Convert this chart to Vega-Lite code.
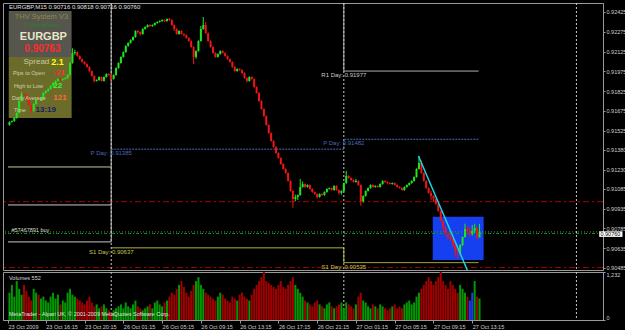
{
"$schema":"https://vega.github.io/schema/vega-lite/v6.json",
"background":"#000000",
"padding":{"left":2,"top":2,"right":0,"bottom":0},
"bounds":"flush",
"spacing":2,
"config":{"view":{"stroke":"#9a9a9a","strokeWidth":1},"text":{"font":"Liberation Sans"},"axis":{"labelFont":"Liberation Sans","labelFontSize":5.5,"labelColor":"#d0d0d0","domainColor":"#9a9a9a","tickColor":"#9a9a9a","grid":false}},
"datasets":{
"bars":[
{"i":-15,"o":0.91568,"h":0.91596,"l":0.91563,"c":0.91591,"v":700},
{"i":-14,"o":0.91591,"h":0.91603,"l":0.91586,"c":0.91598,"v":900},
{"i":-13,"o":0.91598,"h":0.91626,"l":0.91593,"c":0.91621,"v":600},
{"i":-12,"o":0.91621,"h":0.91664,"l":0.91616,"c":0.91659,"v":1000},
{"i":-11,"o":0.91659,"h":0.91755,"l":0.91654,"c":0.91750,"v":800},
{"i":-10,"o":0.91750,"h":0.91820,"l":0.91745,"c":0.91803,"v":650},
{"i":-9,"o":0.91803,"h":0.91815,"l":0.91791,"c":0.91796,"v":900},
{"i":-8,"o":0.91796,"h":0.91801,"l":0.91760,"c":0.91765,"v":750},
{"i":-7,"o":0.91765,"h":0.91770,"l":0.91715,"c":0.91720,"v":600},
{"i":-6,"o":0.91720,"h":0.91725,"l":0.91660,"c":0.91674,"v":500},
{"i":-5,"o":0.91674,"h":0.91732,"l":0.91669,"c":0.91727,"v":800},
{"i":-4,"o":0.91727,"h":0.91770,"l":0.91722,"c":0.91765,"v":700},
{"i":-3,"o":0.91765,"h":0.91775,"l":0.91753,"c":0.91758,"v":650},
{"i":-2,"o":0.91758,"h":0.91778,"l":0.91753,"c":0.91773,"v":550},
{"i":-1,"o":0.91773,"h":0.91816,"l":0.91768,"c":0.91811,"v":600},
{"i":0,"o":0.91811,"h":0.91831,"l":0.91806,"c":0.91826,"v":500},
{"i":1,"o":0.91826,"h":0.91846,"l":0.91821,"c":0.91841,"v":450},
{"i":2,"o":0.91841,"h":0.91869,"l":0.91836,"c":0.91864,"v":600},
{"i":3,"o":0.91864,"h":0.91891,"l":0.91859,"c":0.91886,"v":700},
{"i":4,"o":0.91886,"h":0.91907,"l":0.91881,"c":0.91902,"v":550},
{"i":5,"o":0.91902,"h":0.91922,"l":0.91897,"c":0.91917,"v":650},
{"i":6,"o":0.91917,"h":0.91922,"l":0.91904,"c":0.91909,"v":400},
{"i":7,"o":0.91909,"h":0.91922,"l":0.91904,"c":0.91917,"v":500},
{"i":8,"o":0.91917,"h":0.91929,"l":0.91912,"c":0.91924,"v":450},
{"i":9,"o":0.91924,"h":0.91952,"l":0.91919,"c":0.91947,"v":700},
{"i":10,"o":0.91947,"h":0.92043,"l":0.91942,"c":0.92038,"v":800},
{"i":11,"o":0.92038,"h":0.92150,"l":0.92033,"c":0.92114,"v":650},
{"i":12,"o":0.92114,"h":0.92140,"l":0.92100,"c":0.92121,"v":600},
{"i":13,"o":0.92121,"h":0.92126,"l":0.92086,"c":0.92091,"v":550},
{"i":14,"o":0.92091,"h":0.92096,"l":0.92063,"c":0.92068,"v":500},
{"i":15,"o":0.92068,"h":0.92073,"l":0.92041,"c":0.92046,"v":450},
{"i":16,"o":0.92046,"h":0.92051,"l":0.92025,"c":0.92030,"v":400},
{"i":17,"o":0.92030,"h":0.92035,"l":0.92003,"c":0.92008,"v":500},
{"i":18,"o":0.92008,"h":0.92013,"l":0.91972,"c":0.91977,"v":600},
{"i":19,"o":0.91977,"h":0.91982,"l":0.91935,"c":0.91940,"v":450},
{"i":20,"o":0.91940,"h":0.91945,"l":0.91890,"c":0.91902,"v":350},
{"i":21,"o":0.91902,"h":0.91914,"l":0.91897,"c":0.91909,"v":400},
{"i":22,"o":0.91909,"h":0.91937,"l":0.91904,"c":0.91932,"v":300},
{"i":23,"o":0.91932,"h":0.91937,"l":0.91897,"c":0.91902,"v":350},
{"i":24,"o":0.91902,"h":0.91937,"l":0.91897,"c":0.91932,"v":400},
{"i":25,"o":0.91932,"h":0.91960,"l":0.91927,"c":0.91955,"v":300},
{"i":26,"o":0.91955,"h":0.91960,"l":0.91942,"c":0.91947,"v":250},
{"i":27,"o":0.91947,"h":0.91952,"l":0.91905,"c":0.91917,"v":200},
{"i":28,"o":0.91917,"h":0.91952,"l":0.91912,"c":0.91947,"v":250},
{"i":29,"o":0.91947,"h":0.92005,"l":0.91942,"c":0.92000,"v":300},
{"i":30,"o":0.92000,"h":0.92043,"l":0.91995,"c":0.92038,"v":350},
{"i":31,"o":0.92038,"h":0.92089,"l":0.92033,"c":0.92084,"v":400},
{"i":32,"o":0.92084,"h":0.92126,"l":0.92079,"c":0.92121,"v":300},
{"i":33,"o":0.92121,"h":0.92172,"l":0.92116,"c":0.92167,"v":450},
{"i":34,"o":0.92167,"h":0.92195,"l":0.92162,"c":0.92190,"v":350},
{"i":35,"o":0.92190,"h":0.92217,"l":0.92185,"c":0.92212,"v":300},
{"i":36,"o":0.92212,"h":0.92240,"l":0.92207,"c":0.92235,"v":400},
{"i":37,"o":0.92235,"h":0.92286,"l":0.92230,"c":0.92281,"v":500},
{"i":38,"o":0.92281,"h":0.92290,"l":0.92260,"c":0.92273,"v":350},
{"i":39,"o":0.92273,"h":0.92278,"l":0.92245,"c":0.92258,"v":300},
{"i":40,"o":0.92258,"h":0.92301,"l":0.92253,"c":0.92296,"v":250},
{"i":41,"o":0.92296,"h":0.92316,"l":0.92291,"c":0.92311,"v":300},
{"i":42,"o":0.92311,"h":0.92331,"l":0.92306,"c":0.92326,"v":350},
{"i":43,"o":0.92326,"h":0.92331,"l":0.92313,"c":0.92318,"v":400},
{"i":44,"o":0.92318,"h":0.92331,"l":0.92313,"c":0.92326,"v":300},
{"i":45,"o":0.92326,"h":0.92346,"l":0.92321,"c":0.92341,"v":450},
{"i":46,"o":0.92341,"h":0.92354,"l":0.92336,"c":0.92349,"v":500},
{"i":47,"o":0.92349,"h":0.92361,"l":0.92344,"c":0.92356,"v":400},
{"i":48,"o":0.92356,"h":0.92369,"l":0.92351,"c":0.92364,"v":350},
{"i":49,"o":0.92364,"h":0.92369,"l":0.92351,"c":0.92356,"v":450},
{"i":50,"o":0.92356,"h":0.92377,"l":0.92351,"c":0.92372,"v":500},
{"i":51,"o":0.92372,"h":0.92380,"l":0.92359,"c":0.92364,"v":600},
{"i":52,"o":0.92364,"h":0.92369,"l":0.92321,"c":0.92326,"v":700},
{"i":53,"o":0.92326,"h":0.92331,"l":0.92280,"c":0.92296,"v":650},
{"i":54,"o":0.92296,"h":0.92301,"l":0.92253,"c":0.92258,"v":800},
{"i":55,"o":0.92258,"h":0.92286,"l":0.92253,"c":0.92281,"v":900},
{"i":56,"o":0.92281,"h":0.92286,"l":0.92253,"c":0.92258,"v":1000},
{"i":57,"o":0.92258,"h":0.92263,"l":0.92240,"c":0.92250,"v":850},
{"i":58,"o":0.92250,"h":0.92255,"l":0.92223,"c":0.92228,"v":700},
{"i":59,"o":0.92228,"h":0.92233,"l":0.92200,"c":0.92205,"v":600},
{"i":60,"o":0.92205,"h":0.92210,"l":0.92154,"c":0.92159,"v":750},
{"i":61,"o":0.92159,"h":0.92164,"l":0.92030,"c":0.92084,"v":900},
{"i":62,"o":0.92084,"h":0.92134,"l":0.92070,"c":0.92129,"v":1000},
{"i":63,"o":0.92129,"h":0.92210,"l":0.92124,"c":0.92205,"v":1100},
{"i":64,"o":0.92205,"h":0.92320,"l":0.92200,"c":0.92296,"v":900},
{"i":65,"o":0.92296,"h":0.92387,"l":0.92291,"c":0.92326,"v":800},
{"i":66,"o":0.92326,"h":0.92350,"l":0.92260,"c":0.92265,"v":700},
{"i":67,"o":0.92265,"h":0.92270,"l":0.92200,"c":0.92205,"v":650},
{"i":68,"o":0.92205,"h":0.92210,"l":0.92154,"c":0.92159,"v":600},
{"i":69,"o":0.92159,"h":0.92164,"l":0.92109,"c":0.92114,"v":550},
{"i":70,"o":0.92114,"h":0.92119,"l":0.92079,"c":0.92084,"v":500},
{"i":71,"o":0.92084,"h":0.92111,"l":0.92079,"c":0.92106,"v":600},
{"i":72,"o":0.92106,"h":0.92134,"l":0.92101,"c":0.92129,"v":700},
{"i":73,"o":0.92129,"h":0.92134,"l":0.92109,"c":0.92114,"v":650},
{"i":74,"o":0.92114,"h":0.92119,"l":0.92086,"c":0.92091,"v":550},
{"i":75,"o":0.92091,"h":0.92096,"l":0.92063,"c":0.92068,"v":500},
{"i":76,"o":0.92068,"h":0.92073,"l":0.92041,"c":0.92046,"v":450},
{"i":77,"o":0.92046,"h":0.92051,"l":0.92003,"c":0.92008,"v":600},
{"i":78,"o":0.92008,"h":0.92013,"l":0.91972,"c":0.91977,"v":550},
{"i":79,"o":0.91977,"h":0.91998,"l":0.91972,"c":0.91993,"v":500},
{"i":80,"o":0.91993,"h":0.91998,"l":0.91980,"c":0.91985,"v":650},
{"i":81,"o":0.91985,"h":0.91990,"l":0.91957,"c":0.91962,"v":700},
{"i":82,"o":0.91962,"h":0.91967,"l":0.91919,"c":0.91924,"v":600},
{"i":83,"o":0.91924,"h":0.91929,"l":0.91890,"c":0.91902,"v":550},
{"i":84,"o":0.91902,"h":0.91937,"l":0.91897,"c":0.91932,"v":500},
{"i":85,"o":0.91932,"h":0.91937,"l":0.91912,"c":0.91917,"v":650},
{"i":86,"o":0.91917,"h":0.91922,"l":0.91851,"c":0.91856,"v":800},
{"i":87,"o":0.91856,"h":0.91861,"l":0.91806,"c":0.91811,"v":900},
{"i":88,"o":0.91811,"h":0.91816,"l":0.91745,"c":0.91750,"v":1000},
{"i":89,"o":0.91750,"h":0.91755,"l":0.91684,"c":0.91689,"v":1100},
{"i":90,"o":0.91689,"h":0.91694,"l":0.91631,"c":0.91636,"v":1232},
{"i":91,"o":0.91636,"h":0.91641,"l":0.91563,"c":0.91568,"v":1000},
{"i":92,"o":0.91568,"h":0.91573,"l":0.91502,"c":0.91507,"v":950},
{"i":93,"o":0.91507,"h":0.91512,"l":0.91442,"c":0.91447,"v":900},
{"i":94,"o":0.91447,"h":0.91452,"l":0.91396,"c":0.91401,"v":850},
{"i":95,"o":0.91401,"h":0.91406,"l":0.91351,"c":0.91356,"v":800},
{"i":96,"o":0.91356,"h":0.91361,"l":0.91313,"c":0.91318,"v":900},
{"i":97,"o":0.91318,"h":0.91323,"l":0.91267,"c":0.91272,"v":1000},
{"i":98,"o":0.91272,"h":0.91277,"l":0.91230,"c":0.91235,"v":850},
{"i":99,"o":0.91235,"h":0.91240,"l":0.91199,"c":0.91204,"v":800},
{"i":100,"o":0.91204,"h":0.91209,"l":0.91139,"c":0.91144,"v":900},
{"i":101,"o":0.91144,"h":0.91149,"l":0.91063,"c":0.91068,"v":1000},
{"i":102,"o":0.91068,"h":0.91073,"l":0.90940,"c":0.91007,"v":1100},
{"i":103,"o":0.91007,"h":0.91040,"l":0.90990,"c":0.91022,"v":900},
{"i":104,"o":0.91022,"h":0.91042,"l":0.91000,"c":0.91037,"v":800},
{"i":105,"o":0.91037,"h":0.91159,"l":0.91032,"c":0.91098,"v":700},
{"i":106,"o":0.91098,"h":0.91140,"l":0.91093,"c":0.91121,"v":600},
{"i":107,"o":0.91121,"h":0.91126,"l":0.91093,"c":0.91098,"v":500},
{"i":108,"o":0.91098,"h":0.91118,"l":0.91093,"c":0.91113,"v":450},
{"i":109,"o":0.91113,"h":0.91118,"l":0.91078,"c":0.91083,"v":400},
{"i":110,"o":0.91083,"h":0.91088,"l":0.91055,"c":0.91060,"v":350},
{"i":111,"o":0.91060,"h":0.91065,"l":0.91040,"c":0.91045,"v":450},
{"i":112,"o":0.91045,"h":0.91050,"l":0.91010,"c":0.91022,"v":500},
{"i":113,"o":0.91022,"h":0.91050,"l":0.91017,"c":0.91045,"v":400},
{"i":114,"o":0.91045,"h":0.91050,"l":0.91032,"c":0.91037,"v":350},
{"i":115,"o":0.91037,"h":0.91065,"l":0.91032,"c":0.91060,"v":300},
{"i":116,"o":0.91060,"h":0.91088,"l":0.91055,"c":0.91083,"v":400},
{"i":117,"o":0.91083,"h":0.91095,"l":0.91078,"c":0.91090,"v":450},
{"i":118,"o":0.91090,"h":0.91095,"l":0.91070,"c":0.91075,"v":350},
{"i":119,"o":0.91075,"h":0.91111,"l":0.91070,"c":0.91106,"v":300},
{"i":120,"o":0.91106,"h":0.91111,"l":0.91070,"c":0.91075,"v":350},
{"i":121,"o":0.91075,"h":0.91080,"l":0.91040,"c":0.91053,"v":400},
{"i":122,"o":0.91053,"h":0.91073,"l":0.91040,"c":0.91068,"v":450},
{"i":123,"o":0.91068,"h":0.91133,"l":0.91063,"c":0.91128,"v":300},
{"i":124,"o":0.91128,"h":0.91220,"l":0.91123,"c":0.91182,"v":450},
{"i":125,"o":0.91182,"h":0.91187,"l":0.91161,"c":0.91166,"v":400},
{"i":126,"o":0.91166,"h":0.91171,"l":0.91146,"c":0.91151,"v":350},
{"i":127,"o":0.91151,"h":0.91156,"l":0.91131,"c":0.91136,"v":300},
{"i":128,"o":0.91136,"h":0.91160,"l":0.91131,"c":0.91144,"v":400},
{"i":129,"o":0.91144,"h":0.91149,"l":0.91108,"c":0.91113,"v":600},
{"i":130,"o":0.91113,"h":0.91118,"l":0.90955,"c":0.90992,"v":700},
{"i":131,"o":0.90992,"h":0.91035,"l":0.90980,"c":0.91030,"v":500},
{"i":132,"o":0.91030,"h":0.91073,"l":0.91025,"c":0.91068,"v":450},
{"i":133,"o":0.91068,"h":0.91095,"l":0.91063,"c":0.91090,"v":350},
{"i":134,"o":0.91090,"h":0.91118,"l":0.91085,"c":0.91113,"v":300},
{"i":135,"o":0.91113,"h":0.91118,"l":0.91093,"c":0.91098,"v":400},
{"i":136,"o":0.91098,"h":0.91111,"l":0.91093,"c":0.91106,"v":350},
{"i":137,"o":0.91106,"h":0.91111,"l":0.91093,"c":0.91098,"v":300},
{"i":138,"o":0.91098,"h":0.91126,"l":0.91093,"c":0.91121,"v":400},
{"i":139,"o":0.91121,"h":0.91149,"l":0.91116,"c":0.91144,"v":350},
{"i":140,"o":0.91144,"h":0.91149,"l":0.91131,"c":0.91136,"v":300},
{"i":141,"o":0.91136,"h":0.91141,"l":0.91123,"c":0.91128,"v":250},
{"i":142,"o":0.91128,"h":0.91133,"l":0.91116,"c":0.91121,"v":300},
{"i":143,"o":0.91121,"h":0.91133,"l":0.91116,"c":0.91128,"v":350},
{"i":144,"o":0.91128,"h":0.91133,"l":0.91108,"c":0.91113,"v":400},
{"i":145,"o":0.91113,"h":0.91118,"l":0.91093,"c":0.91098,"v":300},
{"i":146,"o":0.91098,"h":0.91103,"l":0.91085,"c":0.91090,"v":350},
{"i":147,"o":0.91090,"h":0.91095,"l":0.91070,"c":0.91075,"v":300},
{"i":148,"o":0.91075,"h":0.91103,"l":0.91070,"c":0.91098,"v":400},
{"i":149,"o":0.91098,"h":0.91118,"l":0.91093,"c":0.91113,"v":450},
{"i":150,"o":0.91113,"h":0.91133,"l":0.91108,"c":0.91128,"v":500},
{"i":151,"o":0.91128,"h":0.91149,"l":0.91123,"c":0.91144,"v":400},
{"i":152,"o":0.91144,"h":0.91179,"l":0.91139,"c":0.91174,"v":450},
{"i":153,"o":0.91174,"h":0.91240,"l":0.91169,"c":0.91235,"v":600},
{"i":154,"o":0.91235,"h":0.91333,"l":0.91230,"c":0.91280,"v":700},
{"i":155,"o":0.91280,"h":0.91300,"l":0.91199,"c":0.91204,"v":800},
{"i":156,"o":0.91204,"h":0.91209,"l":0.91139,"c":0.91144,"v":900},
{"i":157,"o":0.91144,"h":0.91149,"l":0.91085,"c":0.91090,"v":1000},
{"i":158,"o":0.91090,"h":0.91095,"l":0.91048,"c":0.91053,"v":1100},
{"i":159,"o":0.91053,"h":0.91070,"l":0.91000,"c":0.91030,"v":1000},
{"i":160,"o":0.91030,"h":0.91035,"l":0.90990,"c":0.91007,"v":900},
{"i":161,"o":0.91007,"h":0.91012,"l":0.90964,"c":0.90969,"v":1000},
{"i":162,"o":0.90969,"h":0.90974,"l":0.90911,"c":0.90916,"v":1100},
{"i":163,"o":0.90916,"h":0.90921,"l":0.90835,"c":0.90840,"v":1232},
{"i":164,"o":0.90840,"h":0.90845,"l":0.90770,"c":0.90795,"v":1000},
{"i":165,"o":0.90795,"h":0.90800,"l":0.90730,"c":0.90749,"v":900},
{"i":166,"o":0.90749,"h":0.90754,"l":0.90700,"c":0.90719,"v":800},
{"i":167,"o":0.90719,"h":0.90740,"l":0.90690,"c":0.90704,"v":1000},
{"i":168,"o":0.90704,"h":0.90709,"l":0.90640,"c":0.90659,"v":900},
{"i":169,"o":0.90659,"h":0.90664,"l":0.90570,"c":0.90613,"v":800},
{"i":170,"o":0.90613,"h":0.90640,"l":0.90553,"c":0.90598,"v":700},
{"i":171,"o":0.90598,"h":0.90664,"l":0.90580,"c":0.90659,"v":900},
{"i":172,"o":0.90659,"h":0.90724,"l":0.90650,"c":0.90719,"v":800},
{"i":173,"o":0.90719,"h":0.90820,"l":0.90714,"c":0.90780,"v":700},
{"i":174,"o":0.90780,"h":0.90800,"l":0.90740,"c":0.90772,"v":600},
{"i":175,"o":0.90772,"h":0.90800,"l":0.90720,"c":0.90742,"v":500},
{"i":176,"o":0.90742,"h":0.90810,"l":0.90730,"c":0.90765,"v":700},
{"i":177,"o":0.90765,"h":0.90820,"l":0.90750,"c":0.90787,"v":1000},
{"i":178,"o":0.90787,"h":0.90800,"l":0.90700,"c":0.90716,"v":600},
{"i":179,"o":0.90716,"h":0.90818,"l":0.90716,"c":0.90760,"v":552}
],
"sep":[{"i":27},{"i":123},{"i":219}],
"piv":[
{"k":"R1","i":-15.6,"p":0.90682},{"k":"R1","i":27,"p":0.9262},{"k":"R1","i":123,"p":0.91977},{"k":"R1","i":178.6,"p":0.91977},
{"k":"P","i":27,"p":0.91385},{"k":"P","i":123,"p":0.9146},{"k":"P","i":178.6,"p":0.9146},
{"k":"S1","i":27,"p":0.90637},{"k":"S1","i":123,"p":0.90525},{"k":"S1","i":178.6,"p":0.90525},
{"k":"F1","i":-15.6,"p":0.9125},{"k":"F1","i":27,"p":0.9125},
{"k":"F2","i":-15.6,"p":0.90962},{"k":"F2","i":27,"p":0.90962}
],
"plab":[
{"k":"R1","i":123,"p":0.91977,"t":"R1 Day: 0.91977"},
{"k":"P","i":27,"p":0.91385,"t":"P Day: 0.91385"},
{"k":"P","i":123,"p":0.9146,"t":"P Day: 0.91482"},
{"k":"S1","i":27,"p":0.90637,"t":"S1 Day: 0.90637"},
{"k":"S1","i":123,"p":0.90525,"t":"S1 Day: 0.90535"}
],
"trend":[{"i":153.8,"p":0.91333},{"i":174.1,"p":0.90462}]
},
"vconcat":[
{
"width":600,"height":267,
"data":{"values":[{}]},
"layer":[
{"mark":{"type":"rect","color":"#56564e"},"encoding":{"x":{"datum":-15.3,"axis":null,"scale":{"domain":[-15.6,227.9],"nice":false,"zero":false}},"x2":{"datum":10.66},"y":{"datum":0.92433,"scale":{"domain":[0.90469,0.92493],"nice":false,"zero":false},"axis":{"orient":"right","title":null,"values":[0.92425,0.92275,0.92125,0.91975,0.91825,0.91675,0.91525,0.9138,0.9123,0.91085,0.90935,0.90785,0.90635,0.90485],"format":".5f","tickSize":2,"labelPadding":1,"labelBaseline":"middle"}},"y2":{"datum":0.92084}}},
{"mark":{"type":"rect","color":"#6c6c2a"},"encoding":{"x":{"datum":-15.3,"axis":null},"x2":{"datum":10.66},"y":{"datum":0.92084,"axis":{"orient":"right","title":null,"values":[0.92425,0.92275,0.92125,0.91975,0.91825,0.91675,0.91525,0.9138,0.9123,0.91085,0.90935,0.90785,0.90635,0.90485],"format":".5f","tickSize":2,"labelPadding":1,"labelBaseline":"middle"}},"y2":{"datum":0.91621}}},
{"mark":{"type":"rect","color":"#1440f0"},"encoding":{"x":{"datum":159.7,"axis":null},"x2":{"datum":180.7},"y":{"datum":0.90873,"axis":{"orient":"right","title":null,"values":[0.92425,0.92275,0.92125,0.91975,0.91825,0.91675,0.91525,0.9138,0.9123,0.91085,0.90935,0.90785,0.90635,0.90485],"format":".5f","tickSize":2,"labelPadding":1,"labelBaseline":"middle"}},"y2":{"datum":0.90545}}},
{"mark":{"type":"rule","color":"#b00000","strokeDash":[6,3,2,3]},"encoding":{"y":{"datum":0.90987,"axis":{"orient":"right","title":null,"values":[0.92425,0.92275,0.92125,0.91975,0.91825,0.91675,0.91525,0.9138,0.9123,0.91085,0.90935,0.90785,0.90635,0.90485],"format":".5f","tickSize":2,"labelPadding":1,"labelBaseline":"middle"}}}},
{"mark":{"type":"rule","color":"#b00000","strokeDash":[6,3,2,3]},"encoding":{"y":{"datum":0.90487,"axis":{"orient":"right","title":null,"values":[0.92425,0.92275,0.92125,0.91975,0.91825,0.91675,0.91525,0.9138,0.9123,0.91085,0.90935,0.90785,0.90635,0.90485],"format":".5f","tickSize":2,"labelPadding":1,"labelBaseline":"middle"}}}},
{"mark":{"type":"rule","color":"#707070","strokeDash":[1,2]},"encoding":{"y":{"datum":0.90758,"axis":{"orient":"right","title":null,"values":[0.92425,0.92275,0.92125,0.91975,0.91825,0.91675,0.91525,0.9138,0.9123,0.91085,0.90935,0.90785,0.90635,0.90485],"format":".5f","tickSize":2,"labelPadding":1,"labelBaseline":"middle"}}}},
{"mark":{"type":"rule","color":"#00a000","strokeDash":[3,2,1,2]},"encoding":{"y":{"datum":0.90746,"axis":{"orient":"right","title":null,"values":[0.92425,0.92275,0.92125,0.91975,0.91825,0.91675,0.91525,0.9138,0.9123,0.91085,0.90935,0.90785,0.90635,0.90485],"format":".5f","tickSize":2,"labelPadding":1,"labelBaseline":"middle"}}}},
{"data":{"name":"sep"},"mark":{"type":"rule","color":"#c8c8c8","strokeDash":[2,2]},"encoding":{"x":{"field":"i","type":"quantitative","axis":null}}},
{"data":{"name":"piv"},"mark":{"type":"line","interpolate":"step-after","clip":true,"strokeWidth":1},"encoding":{"x":{"field":"i","type":"quantitative","axis":null},"y":{"field":"p","type":"quantitative","axis":{"orient":"right","title":null,"values":[0.92425,0.92275,0.92125,0.91975,0.91825,0.91675,0.91525,0.9138,0.9123,0.91085,0.90935,0.90785,0.90635,0.90485],"format":".5f","tickSize":2,"labelPadding":1,"labelBaseline":"middle"}},"detail":{"field":"k"},"color":{"field":"k","type":"nominal","legend":null,"scale":{"domain":["R1","P","S1","F1","F2"],"range":["#c8c8c8","#4a6ab8","#c8c84a","#c8c896","#c8c8c8"]}},"strokeDash":{"field":"k","type":"nominal","legend":null,"scale":{"domain":["R1","P","S1","F1","F2"],"range":[[1,0],[2,1],[1,0],[1,0],[1,0]]}}}},
{"data":{"name":"plab"},"mark":{"type":"text","fontSize":6,"dy":4,"align":"center"},"encoding":{"x":{"field":"i","type":"quantitative","axis":null},"y":{"field":"p","type":"quantitative","axis":{"orient":"right","title":null,"values":[0.92425,0.92275,0.92125,0.91975,0.91825,0.91675,0.91525,0.9138,0.9123,0.91085,0.90935,0.90785,0.90635,0.90485],"format":".5f","tickSize":2,"labelPadding":1,"labelBaseline":"middle"}},"text":{"field":"t"},"color":{"field":"k","type":"nominal","legend":null}}},
{"data":{"name":"bars"},"mark":{"type":"rule","strokeWidth":1},"encoding":{"x":{"field":"i","type":"quantitative","axis":null},"y":{"field":"l","type":"quantitative","axis":{"orient":"right","title":null,"values":[0.92425,0.92275,0.92125,0.91975,0.91825,0.91675,0.91525,0.9138,0.9123,0.91085,0.90935,0.90785,0.90635,0.90485],"format":".5f","tickSize":2,"labelPadding":1,"labelBaseline":"middle"}},"y2":{"field":"h"},"color":{"condition":{"test":"datum.c >= datum.o","value":"#1ee61e"},"value":"#f01414"}}},
{"data":{"name":"bars"},"mark":{"type":"bar","width":2},"encoding":{"x":{"field":"i","type":"quantitative","axis":null},"y":{"field":"o","type":"quantitative","axis":{"orient":"right","title":null,"values":[0.92425,0.92275,0.92125,0.91975,0.91825,0.91675,0.91525,0.9138,0.9123,0.91085,0.90935,0.90785,0.90635,0.90485],"format":".5f","tickSize":2,"labelPadding":1,"labelBaseline":"middle"}},"y2":{"field":"c"},"color":{"condition":{"test":"datum.c >= datum.o","value":"#1ee61e"},"value":"#f01414"}}},
{"data":{"name":"trend"},"mark":{"type":"line","color":"#19d3e6","strokeWidth":1.5,"clip":true},"encoding":{"x":{"field":"i","type":"quantitative","axis":null},"y":{"field":"p","type":"quantitative","axis":{"orient":"right","title":null,"values":[0.92425,0.92275,0.92125,0.91975,0.91825,0.91675,0.91525,0.9138,0.9123,0.91085,0.90935,0.90785,0.90635,0.90485],"format":".5f","tickSize":2,"labelPadding":1,"labelBaseline":"middle"}}}},
{"mark":{"type":"rect","color":"#ffffff","clip":false},"encoding":{"x":{"datum":228.4,"axis":null},"x2":{"datum":238},"y":{"datum":0.90762,"axis":{"orient":"right","title":null,"values":[0.92425,0.92275,0.92125,0.91975,0.91825,0.91675,0.91525,0.9138,0.9123,0.91085,0.90935,0.90785,0.90635,0.90485],"format":".5f","tickSize":2,"labelPadding":1,"labelBaseline":"middle"}},"y2":{"datum":0.90720}}},
{"mark":{"type":"text","text":"0.90760","color":"#000000","fontSize":5.5,"align":"left","baseline":"middle"},"encoding":{"x":{"datum":228.9,"axis":null},"y":{"datum":0.90740,"axis":{"orient":"right","title":null,"values":[0.92425,0.92275,0.92125,0.91975,0.91825,0.91675,0.91525,0.9138,0.9123,0.91085,0.90935,0.90785,0.90635,0.90485],"format":".5f","tickSize":2,"labelPadding":1,"labelBaseline":"middle"}}}},
{"mark":{"type":"text","text":"EURGBP,M15  0.90716 0.90818 0.90716 0.90760","color":"#e0e0e0","fontSize":6,"align":"left","baseline":"middle"},"encoding":{"x":{"datum":-15.2,"axis":null},"y":{"datum":0.92463,"axis":{"orient":"right","title":null,"values":[0.92425,0.92275,0.92125,0.91975,0.91825,0.91675,0.91525,0.9138,0.9123,0.91085,0.90935,0.90785,0.90635,0.90485],"format":".5f","tickSize":2,"labelPadding":1,"labelBaseline":"middle"}}}},
{"mark":{"type":"text","text":"#57467891 buy","color":"#d8d8d8","fontSize":5.5,"align":"left","baseline":"middle"},"encoding":{"x":{"datum":-14.2,"axis":null},"y":{"datum":0.90772,"axis":{"orient":"right","title":null,"values":[0.92425,0.92275,0.92125,0.91975,0.91825,0.91675,0.91525,0.9138,0.9123,0.91085,0.90935,0.90785,0.90635,0.90485],"format":".5f","tickSize":2,"labelPadding":1,"labelBaseline":"middle"}}}},
{"mark":{"type":"text","text":"THV System V3","color":"#8c8c44","fontSize":7.5,"align":"center","baseline":"middle"},"encoding":{"x":{"datum":-1.8,"axis":null},"y":{"datum":0.92387,"axis":{"orient":"right","title":null,"values":[0.92425,0.92275,0.92125,0.91975,0.91825,0.91675,0.91525,0.9138,0.9123,0.91085,0.90935,0.90785,0.90635,0.90485],"format":".5f","tickSize":2,"labelPadding":1,"labelBaseline":"middle"}}}},
{"mark":{"type":"text","text":"© Cobraforex","color":"#1e8a1e","fontSize":6,"align":"center","baseline":"middle"},"encoding":{"x":{"datum":-1.8,"axis":null},"y":{"datum":0.92327,"axis":{"orient":"right","title":null,"values":[0.92425,0.92275,0.92125,0.91975,0.91825,0.91675,0.91525,0.9138,0.9123,0.91085,0.90935,0.90785,0.90635,0.90485],"format":".5f","tickSize":2,"labelPadding":1,"labelBaseline":"middle"}}}},
{"mark":{"type":"text","text":"EURGBP","color":"#e8e4c8","fontSize":11,"fontWeight":"bold","align":"center","baseline":"middle"},"encoding":{"x":{"datum":-1.0,"axis":null},"y":{"datum":0.92236,"axis":{"orient":"right","title":null,"values":[0.92425,0.92275,0.92125,0.91975,0.91825,0.91675,0.91525,0.9138,0.9123,0.91085,0.90935,0.90785,0.90635,0.90485],"format":".5f","tickSize":2,"labelPadding":1,"labelBaseline":"middle"}}}},
{"mark":{"type":"text","text":"0.90763","color":"#ff2a2a","fontSize":10,"fontWeight":"bold","align":"center","baseline":"middle"},"encoding":{"x":{"datum":-1.4,"axis":null},"y":{"datum":0.92145,"axis":{"orient":"right","title":null,"values":[0.92425,0.92275,0.92125,0.91975,0.91825,0.91675,0.91525,0.9138,0.9123,0.91085,0.90935,0.90785,0.90635,0.90485],"format":".5f","tickSize":2,"labelPadding":1,"labelBaseline":"middle"}}}},
{"mark":{"type":"text","text":"Spread","color":"#c8c8a8","fontSize":8,"align":"right","baseline":"middle"},"encoding":{"x":{"datum":1.44,"axis":null},"y":{"datum":0.92046,"axis":{"orient":"right","title":null,"values":[0.92425,0.92275,0.92125,0.91975,0.91825,0.91675,0.91525,0.9138,0.9123,0.91085,0.90935,0.90785,0.90635,0.90485],"format":".5f","tickSize":2,"labelPadding":1,"labelBaseline":"middle"}}}},
{"mark":{"type":"text","text":"2.1","color":"#ffff00","fontSize":9,"fontWeight":"bold","align":"left","baseline":"middle"},"encoding":{"x":{"datum":2.26,"axis":null},"y":{"datum":0.92046,"axis":{"orient":"right","title":null,"values":[0.92425,0.92275,0.92125,0.91975,0.91825,0.91675,0.91525,0.9138,0.9123,0.91085,0.90935,0.90785,0.90635,0.90485],"format":".5f","tickSize":2,"labelPadding":1,"labelBaseline":"middle"}}}},
{"mark":{"type":"text","text":"Pips to Open","color":"#d0d0b0","fontSize":5.5,"align":"left","baseline":"middle"},"encoding":{"x":{"datum":-13.57,"axis":null},"y":{"datum":0.91963,"axis":{"orient":"right","title":null,"values":[0.92425,0.92275,0.92125,0.91975,0.91825,0.91675,0.91525,0.9138,0.9123,0.91085,0.90935,0.90785,0.90635,0.90485],"format":".5f","tickSize":2,"labelPadding":1,"labelBaseline":"middle"}}}},
{"mark":{"type":"text","text":"-21","color":"#ff3030","fontSize":8,"fontWeight":"bold","align":"left","baseline":"middle"},"encoding":{"x":{"datum":3.07,"axis":null},"y":{"datum":0.91963,"axis":{"orient":"right","title":null,"values":[0.92425,0.92275,0.92125,0.91975,0.91825,0.91675,0.91525,0.9138,0.9123,0.91085,0.90935,0.90785,0.90635,0.90485],"format":".5f","tickSize":2,"labelPadding":1,"labelBaseline":"middle"}}}},
{"mark":{"type":"text","text":"High to Low","color":"#d0d0b0","fontSize":5.5,"align":"left","baseline":"middle"},"encoding":{"x":{"datum":-13.17,"axis":null},"y":{"datum":0.91864,"axis":{"orient":"right","title":null,"values":[0.92425,0.92275,0.92125,0.91975,0.91825,0.91675,0.91525,0.9138,0.9123,0.91085,0.90935,0.90785,0.90635,0.90485],"format":".5f","tickSize":2,"labelPadding":1,"labelBaseline":"middle"}}}},
{"mark":{"type":"text","text":"22","color":"#30ff30","fontSize":8,"fontWeight":"bold","align":"left","baseline":"middle"},"encoding":{"x":{"datum":3.07,"axis":null},"y":{"datum":0.91864,"axis":{"orient":"right","title":null,"values":[0.92425,0.92275,0.92125,0.91975,0.91825,0.91675,0.91525,0.9138,0.9123,0.91085,0.90935,0.90785,0.90635,0.90485],"format":".5f","tickSize":2,"labelPadding":1,"labelBaseline":"middle"}}}},
{"mark":{"type":"text","text":"Daily Average","color":"#d0d0b0","fontSize":5.5,"align":"left","baseline":"middle"},"encoding":{"x":{"datum":-13.98,"axis":null},"y":{"datum":0.91773,"axis":{"orient":"right","title":null,"values":[0.92425,0.92275,0.92125,0.91975,0.91825,0.91675,0.91525,0.9138,0.9123,0.91085,0.90935,0.90785,0.90635,0.90485],"format":".5f","tickSize":2,"labelPadding":1,"labelBaseline":"middle"}}}},
{"mark":{"type":"text","text":"121","color":"#ff6a3a","fontSize":8,"fontWeight":"bold","align":"left","baseline":"middle"},"encoding":{"x":{"datum":3.07,"axis":null},"y":{"datum":0.91773,"axis":{"orient":"right","title":null,"values":[0.92425,0.92275,0.92125,0.91975,0.91825,0.91675,0.91525,0.9138,0.9123,0.91085,0.90935,0.90785,0.90635,0.90485],"format":".5f","tickSize":2,"labelPadding":1,"labelBaseline":"middle"}}}},
{"mark":{"type":"text","text":"Time","color":"#d0d0b0","fontSize":5.5,"align":"left","baseline":"middle"},"encoding":{"x":{"datum":-13.17,"axis":null},"y":{"datum":0.91682,"axis":{"orient":"right","title":null,"values":[0.92425,0.92275,0.92125,0.91975,0.91825,0.91675,0.91525,0.9138,0.9123,0.91085,0.90935,0.90785,0.90635,0.90485],"format":".5f","tickSize":2,"labelPadding":1,"labelBaseline":"middle"}}}},
{"mark":{"type":"text","text":"13:19","color":"#1a1a60","fontSize":8,"fontWeight":"bold","align":"left","baseline":"middle"},"encoding":{"x":{"datum":-4.24,"axis":null},"y":{"datum":0.91682,"axis":{"orient":"right","title":null,"values":[0.92425,0.92275,0.92125,0.91975,0.91825,0.91675,0.91525,0.9138,0.9123,0.91085,0.90935,0.90785,0.90635,0.90485],"format":".5f","tickSize":2,"labelPadding":1,"labelBaseline":"middle"}}}}
]
},
{
"width":600,"height":48,
"data":{"values":[{}]},
"layer":[
{"data":{"name":"sep"},"mark":{"type":"rule","color":"#c8c8c8","strokeDash":[2,2]},"encoding":{"x":{"field":"i","type":"quantitative","scale":{"domain":[-15.6,227.9],"nice":false,"zero":false},"axis":{"orient":"bottom","title":null,"values":[-15.6,0,16,32,48,64,80,96,112,128,144,160,176],"labelExpr":"datum.value < -10 ? '23 Oct 2009' : datum.value == 0 ? '23 Oct 16:15' : datum.value == 16 ? '23 Oct 20:15' : datum.value == 32 ? '26 Oct 01:15' : datum.value == 48 ? '26 Oct 05:15' : datum.value == 64 ? '26 Oct 09:15' : datum.value == 80 ? '26 Oct 13:15' : datum.value == 96 ? '26 Oct 17:15' : datum.value == 112 ? '26 Oct 21:15' : datum.value == 128 ? '27 Oct 01:15' : datum.value == 144 ? '27 Oct 05:15' : datum.value == 160 ? '27 Oct 09:15' : '27 Oct 13:15'","labelAlign":"left","labelFlush":false,"tickSize":3,"labelPadding":1,"labelBaseline":"top"}}}},
{"data":{"name":"bars"},"mark":{"type":"bar","width":2},"encoding":{"x":{"field":"i","type":"quantitative","axis":{"orient":"bottom","title":null,"values":[-15.6,0,16,32,48,64,80,96,112,128,144,160,176],"labelExpr":"datum.value < -10 ? '23 Oct 2009' : datum.value == 0 ? '23 Oct 16:15' : datum.value == 16 ? '23 Oct 20:15' : datum.value == 32 ? '26 Oct 01:15' : datum.value == 48 ? '26 Oct 05:15' : datum.value == 64 ? '26 Oct 09:15' : datum.value == 80 ? '26 Oct 13:15' : datum.value == 96 ? '26 Oct 17:15' : datum.value == 112 ? '26 Oct 21:15' : datum.value == 128 ? '27 Oct 01:15' : datum.value == 144 ? '27 Oct 05:15' : datum.value == 160 ? '27 Oct 09:15' : '27 Oct 13:15'","labelAlign":"left","labelFlush":false,"tickSize":3,"labelPadding":1,"labelBaseline":"top"}},"y":{"field":"v","type":"quantitative","scale":{"domain":[0,1232],"nice":false,"zero":true},"axis":{"orient":"right","title":null,"values":[0,1232],"labelFlush":true,"tickSize":2,"labelPadding":1}},"color":{"condition":[{"test":"datum.i == 175 || datum.i == 176","value":"#1a3cff"},{"test":"datum.c >= datum.o","value":"#009a00"}],"value":"#a00000"}}},
{"mark":{"type":"text","text":"Volumes 552","color":"#d8d8d8","fontSize":5.5,"align":"left","baseline":"middle"},"encoding":{"x":{"datum":-15.2,"axis":{"orient":"bottom","title":null,"values":[-15.6,0,16,32,48,64,80,96,112,128,144,160,176],"labelExpr":"datum.value < -10 ? '23 Oct 2009' : datum.value == 0 ? '23 Oct 16:15' : datum.value == 16 ? '23 Oct 20:15' : datum.value == 32 ? '26 Oct 01:15' : datum.value == 48 ? '26 Oct 05:15' : datum.value == 64 ? '26 Oct 09:15' : datum.value == 80 ? '26 Oct 13:15' : datum.value == 96 ? '26 Oct 17:15' : datum.value == 112 ? '26 Oct 21:15' : datum.value == 128 ? '27 Oct 01:15' : datum.value == 144 ? '27 Oct 05:15' : datum.value == 160 ? '27 Oct 09:15' : '27 Oct 13:15'","labelAlign":"left","labelFlush":false,"tickSize":3,"labelPadding":1,"labelBaseline":"top"}},"y":{"datum":1080,"axis":{"orient":"right","title":null,"values":[0,1232],"labelFlush":true,"tickSize":2,"labelPadding":1}}}},
{"mark":{"type":"text","text":"MetaTrader - Alpari UK, © 2001-2009 MetaQuotes Software Corp.","color":"#e0e0e0","fontSize":5.5,"align":"left","baseline":"middle"},"encoding":{"x":{"datum":-15.2,"axis":{"orient":"bottom","title":null,"values":[-15.6,0,16,32,48,64,80,96,112,128,144,160,176],"labelExpr":"datum.value < -10 ? '23 Oct 2009' : datum.value == 0 ? '23 Oct 16:15' : datum.value == 16 ? '23 Oct 20:15' : datum.value == 32 ? '26 Oct 01:15' : datum.value == 48 ? '26 Oct 05:15' : datum.value == 64 ? '26 Oct 09:15' : datum.value == 80 ? '26 Oct 13:15' : datum.value == 96 ? '26 Oct 17:15' : datum.value == 112 ? '26 Oct 21:15' : datum.value == 128 ? '27 Oct 01:15' : datum.value == 144 ? '27 Oct 05:15' : datum.value == 160 ? '27 Oct 09:15' : '27 Oct 13:15'","labelAlign":"left","labelFlush":false,"tickSize":3,"labelPadding":1,"labelBaseline":"top"}},"y":{"datum":154,"axis":{"orient":"right","title":null,"values":[0,1232],"labelFlush":true,"tickSize":2,"labelPadding":1}}}}
]
}
]
}
